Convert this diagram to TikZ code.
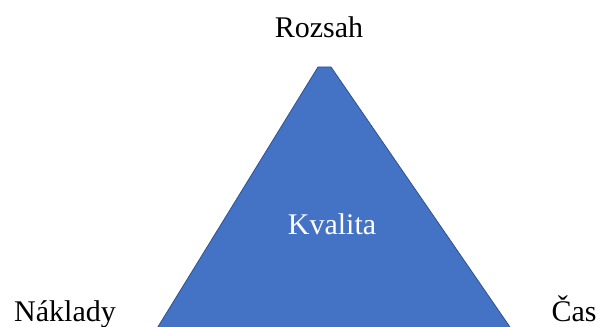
\documentclass[tikz,border=0pt]{standalone}
\usepackage{fontspec}
\setmainfont{Liberation Serif}
\definecolor{trifill}{HTML}{4472C4}
\definecolor{triline}{HTML}{2F528F}
\begin{document}
\begin{tikzpicture}[x=0.75pt,y=-0.75pt,
  lbl/.style={font=\fontsize{22.5}{27}\selectfont, anchor=base, inner sep=0pt},
  tri/.style={fill=trifill, draw=triline, line width=0.6pt, line join=miter}]
\useasboundingbox (0,0) rectangle (601,327);
% the triangle with a slightly flattened top
\coordinate (tl) at (318,67);
\coordinate (tr) at (331,67);
\coordinate (br) at (512,330);
\coordinate (bl) at (156,330);
\path[tri] (tl) -- (tr) -- (br) -- (bl) -- cycle;
\node[lbl] (top) at (319,38) {Rozsah};
\node[lbl, text=white] (mid) at (332,235) {Kvalita};
\node[lbl] (left) at (65,322) {Náklady};
\node[lbl] (right) at (574,322) {Čas};
\end{tikzpicture}
\end{document}
